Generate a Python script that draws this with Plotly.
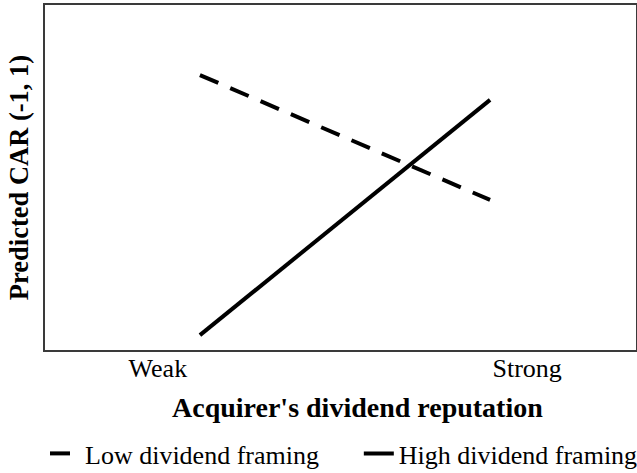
import plotly.graph_objects as go

# Data (arbitrary units of predicted CAR)
reputation_levels = ["Weak", "Strong"]
reputation_x = [0, 1]
low_framing_car = [7.97, 4.35]
high_framing_car = [0.43, 7.25]
series_names = ["Low dividend framing", "High dividend framing"]

FONT = "Liberation Serif, Times New Roman, serif"

fig = go.Figure()
fig.add_trace(go.Scatter(
    x=reputation_x, y=low_framing_car, mode="lines", name=series_names[0],
    line=dict(color="black", width=4, dash="20px,13px"), legend="legend",
))
fig.add_trace(go.Scatter(
    x=reputation_x, y=high_framing_car, mode="lines", name=series_names[1],
    line=dict(color="black", width=4), legend="legend2",
))

legend_style = dict(orientation="h", xanchor="left", y=-0.30, yanchor="middle",
                    font=dict(size=26, family=FONT, color="black"),
                    bgcolor="rgba(0,0,0,0)")

fig.update_layout(
    width=637, height=473,
    margin=dict(l=45, r=1, t=5, b=123, autoexpand=False),
    paper_bgcolor="white", plot_bgcolor="white",
    font=dict(family=FONT, color="black", size=26),
    showlegend=True,
    legend=dict(x=0.0, **legend_style),
    legend2=dict(x=0.531, **legend_style),
    annotations=[dict(
        text="<b>Acquirer's dividend reputation</b>", xref="paper", yref="paper",
        x=0.528, y=-0.168, xanchor="center", yanchor="middle", showarrow=False,
        font=dict(size=28, family=FONT, color="black"),
    )],
)
fig.update_xaxes(
    range=[-0.534, 1.503], showgrid=False, zeroline=False, automargin=False,
    tickmode="array", tickvals=[-0.145, 1.128], ticktext=reputation_levels,
    ticks="", tickfont=dict(size=26, family=FONT), ticklabelstandoff=-6,
    showline=True, linecolor="#3a3a3a", linewidth=2, mirror=True,
)
fig.update_yaxes(
    range=[0, 10], showgrid=False, zeroline=False, showticklabels=False, ticks="", automargin=False,
    showline=True, linecolor="#3a3a3a", linewidth=2, mirror=True,
    title=dict(text="<b>Predicted CAR (-1, 1)</b>", font=dict(size=26.5, family=FONT), standoff=7),
)

fig.write_html("out.html", config={"displayModeBar": False},
               post_script="document.body.style.margin='0';")
